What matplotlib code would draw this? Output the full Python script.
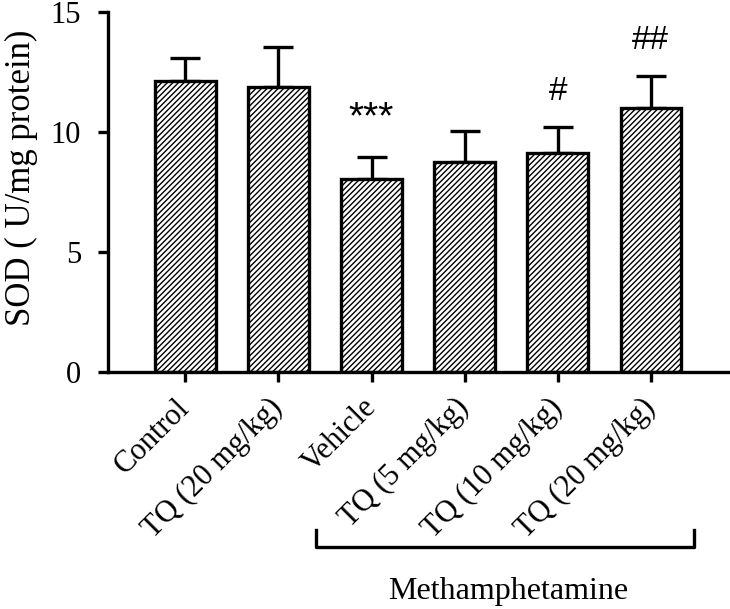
import matplotlib
matplotlib.use('Agg')
import matplotlib.pyplot as plt

groups = ['Control', 'TQ (20 mg/kg)', 'Vehicle', 'TQ (5 mg/kg)', 'TQ (10 mg/kg)', 'TQ (20 mg/kg)']
sod = [12.15, 11.87, 8.04, 8.75, 9.12, 11.0]
sem = [0.95, 1.67, 0.92, 1.29, 1.08, 1.33]
marks = ['', '', '***', '', '#', '##']

plt.rcParams['font.family'] = ['Liberation Serif', 'DejaVu Serif']
plt.rcParams['hatch.linewidth'] = 1.0

fig = plt.figure(figsize=(7.3, 6.09), dpi=100)
ax = fig.add_axes([0.148, 0.389, 0.852, 0.591])

x = range(len(groups))
ax.bar(x, sod, width=0.65, color='white', edgecolor='black', linewidth=2.4,
       hatch='//////', zorder=2)
ax.errorbar(x, sod, yerr=[[0] * len(sem), sem], fmt='none', ecolor='black',
            elinewidth=2.4, capsize=11, capthick=2.4, zorder=1)

for i, m in enumerate(marks):
    if m:
        fs = 28 if m == '***' else 24
        ax.text(i, sod[i] + sem[i] + 0.85, m, ha='center', va='bottom',
                fontsize=fs, family=['Liberation Sans'])

ax.set_xlim(-0.83, 5.85)
ax.set_ylim(0, 15)
ax.set_yticks([0, 5, 10, 15])
ax.set_xticks(list(x))
ax.set_xticklabels(groups, rotation=45, ha='right', va='center',
                   rotation_mode='anchor', fontsize=20)
ax.tick_params(axis='both', direction='out', width=2.4, length=7.5, labelsize=22)
ax.tick_params(axis='y', pad=12)
ax.tick_params(axis='x', pad=15)
ax.set_ylabel('SOD ( U/mg protein)', fontsize=25)
ax.yaxis.set_label_coords(-0.112, 0.54)

for s in ['top', 'right']:
    ax.spines[s].set_visible(False)
for s in ['left', 'bottom']:
    ax.spines[s].set_linewidth(2.4)

# bracket for the methamphetamine groups
bx0, bx1 = 316 / 730, 694 / 730
by, bt = 1 - 547 / 609, 1 - 530 / 609
fig.add_artist(plt.Line2D([bx0, bx0, bx1, bx1], [bt, by, by, bt],
                          color='black', linewidth=2.4, transform=fig.transFigure))
fig.text(508 / 730, 1 - 592 / 609, 'Methamphetamine', ha='center', va='center', fontsize=23)

fig.savefig('out.png', dpi=100)
